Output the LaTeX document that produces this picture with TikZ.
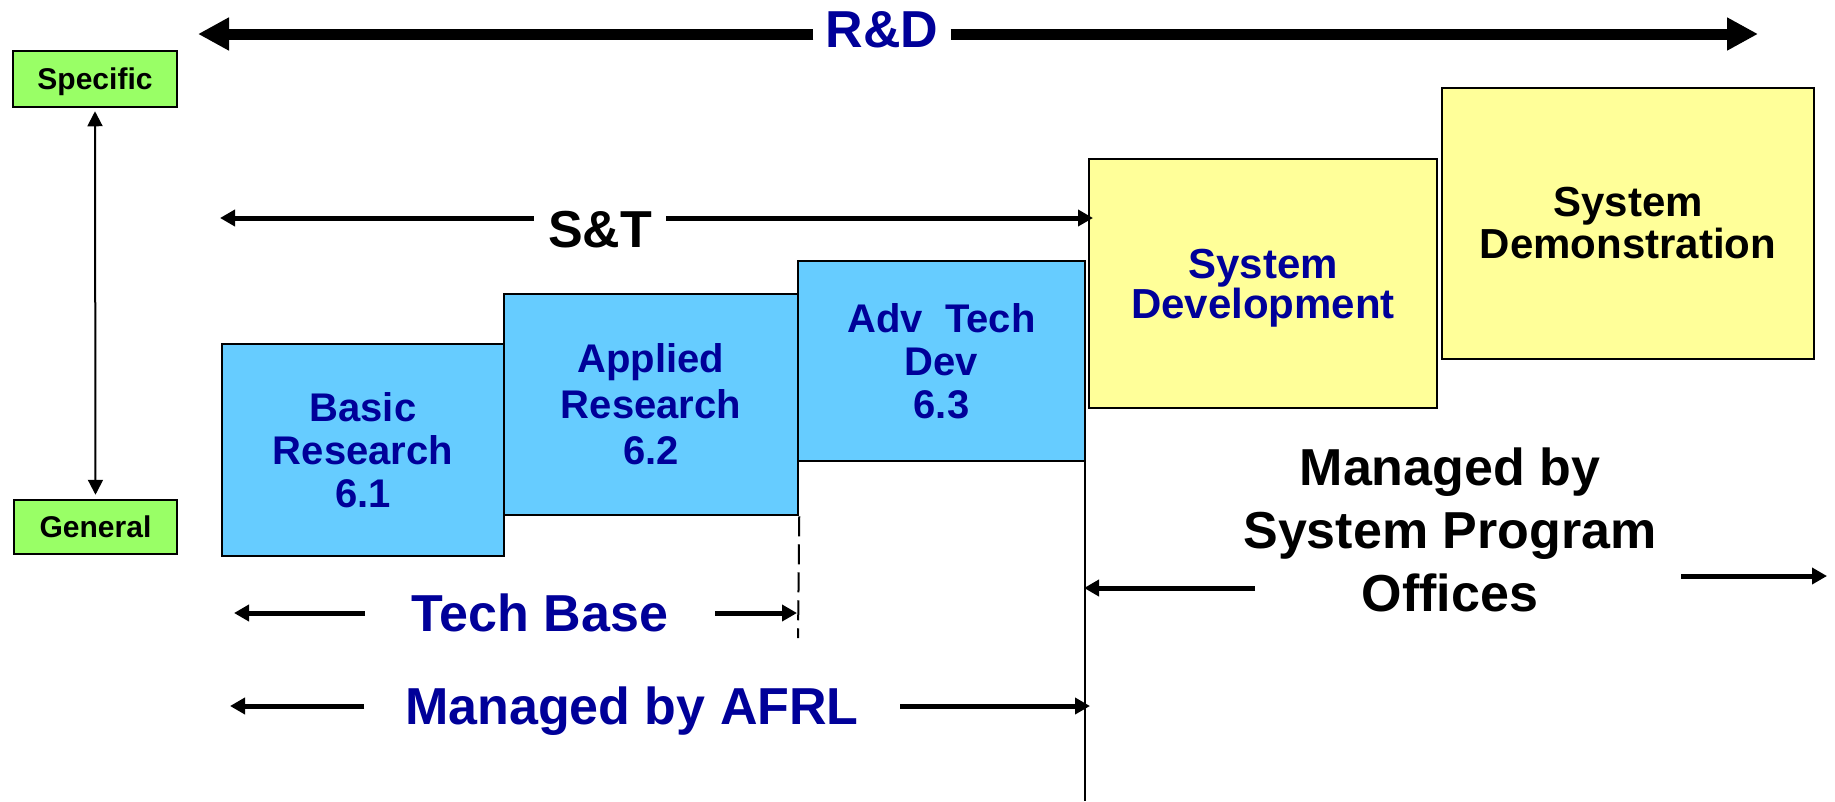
\documentclass[tikz,border=0pt]{standalone}
\usepackage{fontspec}
\setmainfont{Liberation Sans}
\usetikzlibrary{arrows.meta}
\definecolor{navy}{HTML}{000099}
\definecolor{skyfill}{HTML}{66CCFF}
\definecolor{lemon}{HTML}{FFFF99}
\definecolor{lime}{HTML}{99FF66}
\begin{document}
\begin{tikzpicture}[x=1pt,y=-1pt,
 box/.style={draw=black,line width=2.5pt,inner sep=0pt,align=center},
 stage/.style={box,fill=skyfill,text=navy,font=\bfseries\fontsize{40}{43}\selectfont},
 sysbox/.style={box,fill=lemon,font=\bfseries\fontsize{42}{42}\selectfont},
 tag/.style={box,fill=lime,text depth=0pt,font=\bfseries\fontsize{30}{30}\selectfont},
 bigtext/.style={font=\bfseries\fontsize{52}{63}\selectfont,inner ysep=0pt},
 heavy/.style={line width=11pt,-{Triangle[length=31pt,width=31pt]}},
 medium/.style={line width=5pt,-{Triangle[length=15pt,width=16pt]}},
 slim/.style={line width=2pt,{Triangle[length=15pt,width=15pt]}-{Triangle[length=15pt,width=15pt]}},
 rule/.style={line width=2.5pt},
 dashrule/.style={line width=2pt,dash pattern=on 20pt off 8pt}
]
\useasboundingbox (0,0) rectangle (1835,801);

% level tags
\node[tag,minimum width=164pt,minimum height=56pt] (spec) at (95,79) {Specific};
\node[tag,minimum width=163pt,minimum height=54pt] (gen) at (95.5,527) {General};
\draw[slim,shorten <=3pt,shorten >=4pt] (spec.south) -- (gen.north);

% stage boxes
\node[stage,minimum width=282pt,minimum height=212pt] (basic) at (363,450) {Basic\\Research\\6.1};
\node[stage,font=\bfseries\fontsize{40}{46}\selectfont,minimum width=294pt,minimum height=221pt] (applied) at (651,404.5) {Applied\\Research\\6.2};
\node[stage,minimum width=287pt,minimum height=200pt] (adv) at (941.5,361) {Adv\ \ Tech\\Dev\\6.3};
\node[sysbox,text=navy,text depth=0pt,font=\bfseries\fontsize{42}{40}\selectfont,minimum width=348pt,minimum height=249pt] (sysdev) at (1263,283.5) {System\\Development};
\node[sysbox,minimum width=372pt,minimum height=271pt] (sysdemo) at (1628,223.5) {System\\Demonstration};

% R&D
\node[bigtext,text=navy,inner xsep=12pt,anchor=base] (rd) at (882,47) {R\&D};
\coordinate (rdL) at (198,34);
\coordinate (rdR) at (1758,34);
\draw[heavy] (rd.west |- rdL) -- (rdL);
\draw[heavy] (rd.east |- rdR) -- (rdR);

% S&T
\node[bigtext,inner xsep=14pt,anchor=base] (st) at (600,247) {S\&T};
\coordinate (stL) at (220,218);
\coordinate (stR) at (1093,218);
\draw[medium] (st.west |- stL) -- (stL);
\draw[medium] (st.east |- stR) -- (stR);

% Tech Base
\node[bigtext,text=navy,inner xsep=47pt,anchor=base] (tb) at (540,631) {Tech Base};
\coordinate (tbL) at (234,613);
\coordinate (tbR) at (797,613);
\draw[medium] (tb.west |- tbL) -- (tbL);
\draw[medium] (tb.east |- tbR) -- (tbR);
\coordinate (dashEnd) at (798,638);
\draw[dashrule] (applied.south east) -- (dashEnd);

% divider
\coordinate (vTop) at (1085,275);
\coordinate (vBot) at (1085,801);
\draw[rule] (vTop) -- (vBot);

% Managed by AFRL
\node[bigtext,text=navy,inner xsep=41pt,anchor=base] (afrl) at (632,724) {Managed by AFRL};
\coordinate (afL) at (230,706);
\coordinate (afR) at (1090,706);
\draw[medium] (afrl.west |- afL) -- (afL);
\draw[medium] (afrl.east |- afR) -- (afR);

% Managed by SPO
\node[bigtext,align=center] (spo) at (1450,530) {Managed by\\System Program\\Offices};
\coordinate (spLs) at (1255,588);
\coordinate (spL) at (1084,588);
\coordinate (spRs) at (1681,576);
\coordinate (spR) at (1827,576);
\draw[medium] (spLs) -- (spL);
\draw[medium] (spRs) -- (spR);
\end{tikzpicture}
\end{document}
